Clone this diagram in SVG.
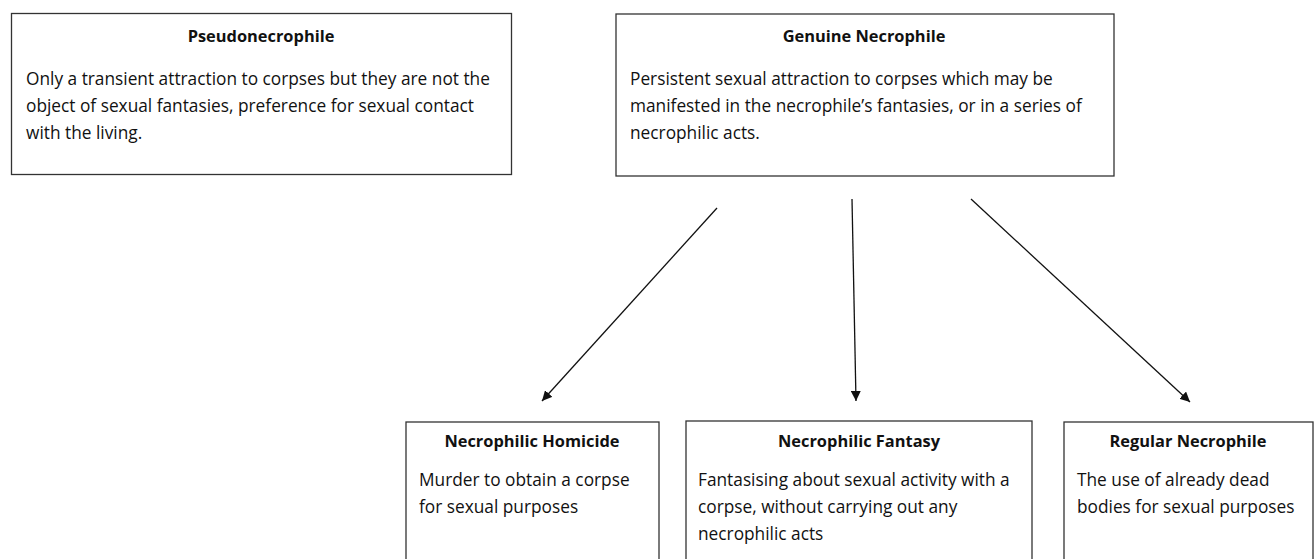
<svg xmlns="http://www.w3.org/2000/svg" width="1315" height="559" viewBox="0 0 1315 559">
<style>
.box{fill:#fff;stroke:#333;stroke-width:1.3}
.t{font-family:"Open Sans","Liberation Sans",Arial,sans-serif;font-size:16.4px;font-weight:bold;fill:#111;text-anchor:middle}
.b{font-family:"Open Sans","Liberation Sans",Arial,sans-serif;font-size:17.3px;fill:#111}
.c{stroke:#111;stroke-width:1.3;fill:none;marker-end:url(#ah)}
</style>
<defs>
<marker id="ah" viewBox="0 0 10 10" refX="10" refY="5" markerWidth="10" markerHeight="10" markerUnits="userSpaceOnUse" orient="auto">
<path d="M0,0 L10,5 L0,10 z" fill="#111"/>
</marker>
</defs>
<rect width="1315" height="559" fill="#fff"/>
<g id="pseudo">
<rect class="box" x="11.5" y="13.5" width="500" height="161"/>
<text class="t" x="261" y="42">Pseudonecrophile</text>
<text class="b" x="26" y="85">Only a transient attraction to corpses but they are not the</text>
<text class="b" x="26" y="112">object of sexual fantasies, preference for sexual contact</text>
<text class="b" x="26" y="139">with the living.</text>
</g>
<g id="genuine">
<rect class="box" x="616" y="14" width="498" height="162"/>
<text class="t" x="864" y="42">Genuine Necrophile</text>
<text class="b" x="630" y="85">Persistent sexual attraction to corpses which may be</text>
<text class="b" x="630" y="112">manifested in the necrophile’s fantasies, or in a series of</text>
<text class="b" x="630" y="139">necrophilic acts.</text>
</g>
<g id="homicide">
<rect class="box" x="406" y="422" width="253" height="150"/>
<text class="t" x="532" y="447">Necrophilic Homicide</text>
<text class="b" x="419" y="486">Murder to obtain a corpse</text>
<text class="b" x="419" y="513">for sexual purposes</text>
</g>
<g id="fantasy">
<rect class="box" x="686" y="421" width="346" height="150"/>
<text class="t" x="859" y="447">Necrophilic Fantasy</text>
<text class="b" x="698" y="486">Fantasising about sexual activity with a</text>
<text class="b" x="698" y="513">corpse, without carrying out any</text>
<text class="b" x="698" y="540">necrophilic acts</text>
</g>
<g id="regular">
<rect class="box" x="1064" y="422" width="249" height="150"/>
<text class="t" x="1188" y="447">Regular Necrophile</text>
<text class="b" x="1077" y="486">The use of already dead</text>
<text class="b" x="1077" y="513">bodies for sexual purposes</text>
</g>
<g id="connectors">
<line class="c" x1="717" y1="208" x2="542" y2="401"/>
<line class="c" x1="852" y1="199" x2="856" y2="401"/>
<line class="c" x1="971" y1="199" x2="1190" y2="402"/>
</g>
</svg>
